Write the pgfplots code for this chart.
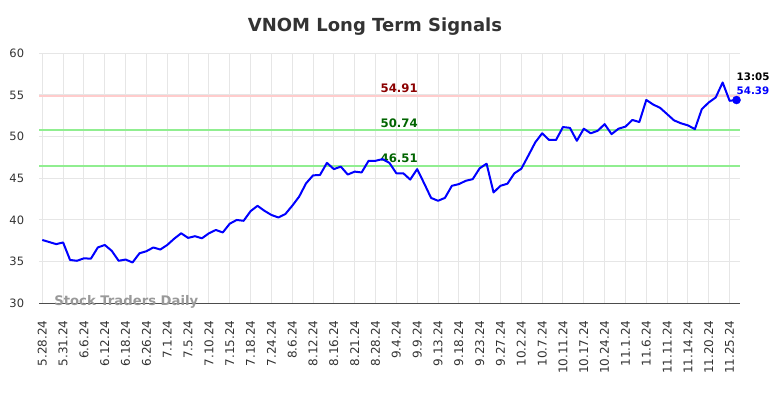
\documentclass[border=0pt]{standalone}
\usepackage{pgfplots}
\pgfplotsset{compat=1.18}
\usepackage{fontspec}
\setmainfont{DejaVu Sans}
\definecolor{gridc}{HTML}{E6E6E6}
\definecolor{redl}{HTML}{FFCCCC}
\definecolor{greenl}{HTML}{90EE90}
\definecolor{darkr}{HTML}{8B0000}
\definecolor{darkg}{HTML}{006400}
\definecolor{titlec}{HTML}{333333}
\definecolor{tickc}{HTML}{333333}
\begin{document}
\begin{tikzpicture}[x=1pt,y=1pt]
\path[use as bounding box] (0,0) rectangle (784,398);
\node[font=\fontsize{18}{20}\selectfont\bfseries, text=titlec] at (375,371) {VNOM Long Term Signals};
\begin{axis}[
  at={(39.3pt,94.7pt)}, anchor=south west,
  width=700.7pt, height=250pt, scale only axis,
  xmin=-0.43, xmax=100.5, ymin=30, ymax=60,
  clip=false,
  axis lines*=left,
  x axis line style={draw=black!70, line width=1pt},
  y axis line style={draw=none},
  major tick length=0pt,
  grid=major,
  major grid style={draw=gridc, line width=1pt},
  xtick={0,3,...,99},
  xticklabels={5.28.24,5.31.24,6.6.24,6.12.24,6.18.24,6.26.24,7.1.24,7.5.24,7.10.24,7.15.24,7.18.24,7.24.24,8.6.24,8.12.24,8.16.24,8.21.24,8.28.24,9.4.24,9.9.24,9.13.24,9.18.24,9.23.24,9.27.24,10.2.24,10.7.24,10.11.24,10.17.24,10.24.24,11.1.24,11.6.24,11.11.24,11.14.24,11.20.24,11.25.24},
  ytick={30,35,...,60},
  /pgf/number format/assume math mode=true,
  xticklabel style={rotate=90, anchor=east, inner sep=0pt, font=\fontsize{12}{13}\selectfont, text=tickc},
  xticklabel shift=17pt,
  yticklabel style={anchor=east, inner sep=0pt, font=\fontsize{11.5}{13}\selectfont, text=tickc},
  yticklabel shift=15pt,
]
\addplot[draw=redl, line width=2pt, forget plot] coordinates {(-0.43,54.91) (100.5,54.91)};
\addplot[draw=greenl, line width=2pt, forget plot] coordinates {(-0.43,50.74) (100.5,50.74)};
\addplot[draw=greenl, line width=2pt, forget plot] coordinates {(-0.43,46.51) (100.5,46.51)};
\node[font=\fontsize{11.7}{13}\selectfont\bfseries, text=darkr, anchor=base, yshift=3pt] at (axis cs:51.4,54.91) {54.91};
\node[font=\fontsize{11.7}{13}\selectfont\bfseries, text=darkg, anchor=base, yshift=3pt] at (axis cs:51.4,50.74) {50.74};
\node[font=\fontsize{11.7}{13}\selectfont\bfseries, text=darkg, anchor=base, yshift=3pt] at (axis cs:51.4,46.51) {46.51};
\node[font=\fontsize{13.2}{14}\selectfont\bfseries, text=black!40] at (axis cs:12.1,30.15) {Stock Traders Daily};
\addplot[blue, line width=2pt, line join=round] coordinates {
(0,37.6) (1,37.35) (2,37.1) (3,37.3) (4,35.2) (5,35.1) (6,35.4) (7,35.35) (8,36.7) (9,37.0)
(10,36.3) (11,35.1) (12,35.25) (13,34.9) (14,36.0) (15,36.25) (16,36.7) (17,36.45) (18,37.0) (19,37.75)
(20,38.4) (21,37.85) (22,38.05) (23,37.8) (24,38.4) (25,38.8) (26,38.5) (27,39.55) (28,40.0) (29,39.9)
(30,41.05) (31,41.7) (32,41.1) (33,40.6) (34,40.3) (35,40.7) (36,41.7) (37,42.8) (38,44.4) (39,45.35)
(40,45.4) (41,46.85) (42,46.1) (43,46.4) (44,45.45) (45,45.8) (46,45.7) (47,47.1) (48,47.1) (49,47.3)
(50,46.85) (51,45.6) (52,45.6) (53,44.85) (54,46.1) (55,44.4) (56,42.65) (57,42.3) (58,42.65) (59,44.1)
(60,44.3) (61,44.7) (62,44.9) (63,46.2) (64,46.75) (65,43.3) (66,44.1) (67,44.35) (68,45.6) (69,46.15)
(70,47.7) (71,49.3) (72,50.4) (73,49.6) (74,49.6) (75,51.15) (76,51.05) (77,49.5) (78,50.95) (79,50.4)
(80,50.7) (81,51.5) (82,50.3) (83,50.95) (84,51.2) (85,52.0) (86,51.75) (87,54.4) (88,53.85) (89,53.45)
(90,52.7) (91,51.95) (92,51.6) (93,51.35) (94,50.9) (95,53.3) (96,54.1) (97,54.7) (98,56.5) (99,54.3)
(100,54.39)};
\addplot[blue, only marks, mark=*, mark size=4pt] coordinates {(100,54.39)};
\node[font=\fontsize{10.3}{12}\selectfont\bfseries, text=blue, anchor=base west, inner sep=0pt, yshift=6pt] at (axis cs:100,54.39) {54.39};
\node[font=\fontsize{10.3}{12}\selectfont\bfseries, text=black, anchor=base west, inner sep=0pt, yshift=20pt] at (axis cs:100,54.39) {13:05};
\end{axis}
\end{tikzpicture}
\end{document}
